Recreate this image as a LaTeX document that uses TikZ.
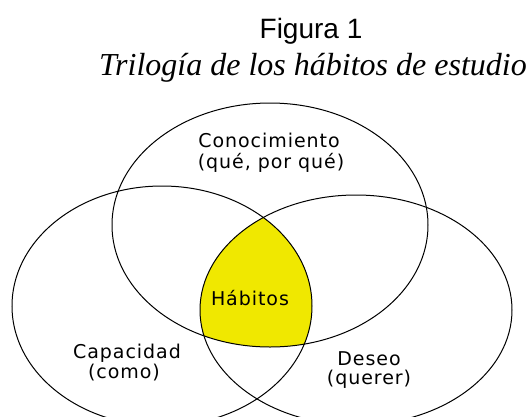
\documentclass[tikz,border=0pt]{standalone}
\usepackage{fontspec}
\setmainfont{Liberation Serif}
\newfontfamily\titlefont{Liberation Sans}
\newfontfamily\vennfont[LetterSpace=5]{DejaVu Sans}
\definecolor{habyellow}{RGB}{240,232,0}
\tikzset{
    venn/.style={draw=black, line width=1pt},
    vtext/.style={font=\vennfont\fontsize{19}{19}\selectfont, inner sep=0pt, anchor=base},
}

\begin{document}
\begin{tikzpicture}[x=1pt, y=-1pt]
    \clip (0,0) rectangle (531,416);

    \coordinate (cT) at (270,225);
    \coordinate (cL) at (162,306);
    \coordinate (cR) at (356,310);

    \begin{scope}
        \clip (cT) ellipse [x radius=158, y radius=122];
        \clip (cL) ellipse [x radius=150, y radius=120];
        \fill[habyellow] (cR) ellipse [x radius=156, y radius=115];
    \end{scope}

    \draw[venn] (cT) ellipse [x radius=158, y radius=122];
    \draw[venn] (cL) ellipse [x radius=150, y radius=120];
    \draw[venn] (cR) ellipse [x radius=156, y radius=115];

    \node[anchor=base, inner sep=0pt, font=\titlefont\fontsize{28}{28}\selectfont] (fig) at (311,38) {Figura 1};
    \node[anchor=base, inner sep=0pt, font=\itshape\fontsize{32}{32}\selectfont] (subt) at (313,75) {Trilogía de los hábitos de estudio};

    \node[vtext] (conoc) at (269,147) {Conocimiento};
    \node[vtext] (conocq) at (271,168) {(qué, por qué)};
    \node[vtext] (habitos) at (250,305) {Hábitos};
    \node[vtext] (capac) at (127,358) {Capacidad};
    \node[vtext] (capacq) at (124,378) {(como)};
    \node[vtext] (deseo) at (369,365) {Deseo};
    \node[vtext] (deseoq) at (369,384) {(querer)};
\end{tikzpicture}
\end{document}
